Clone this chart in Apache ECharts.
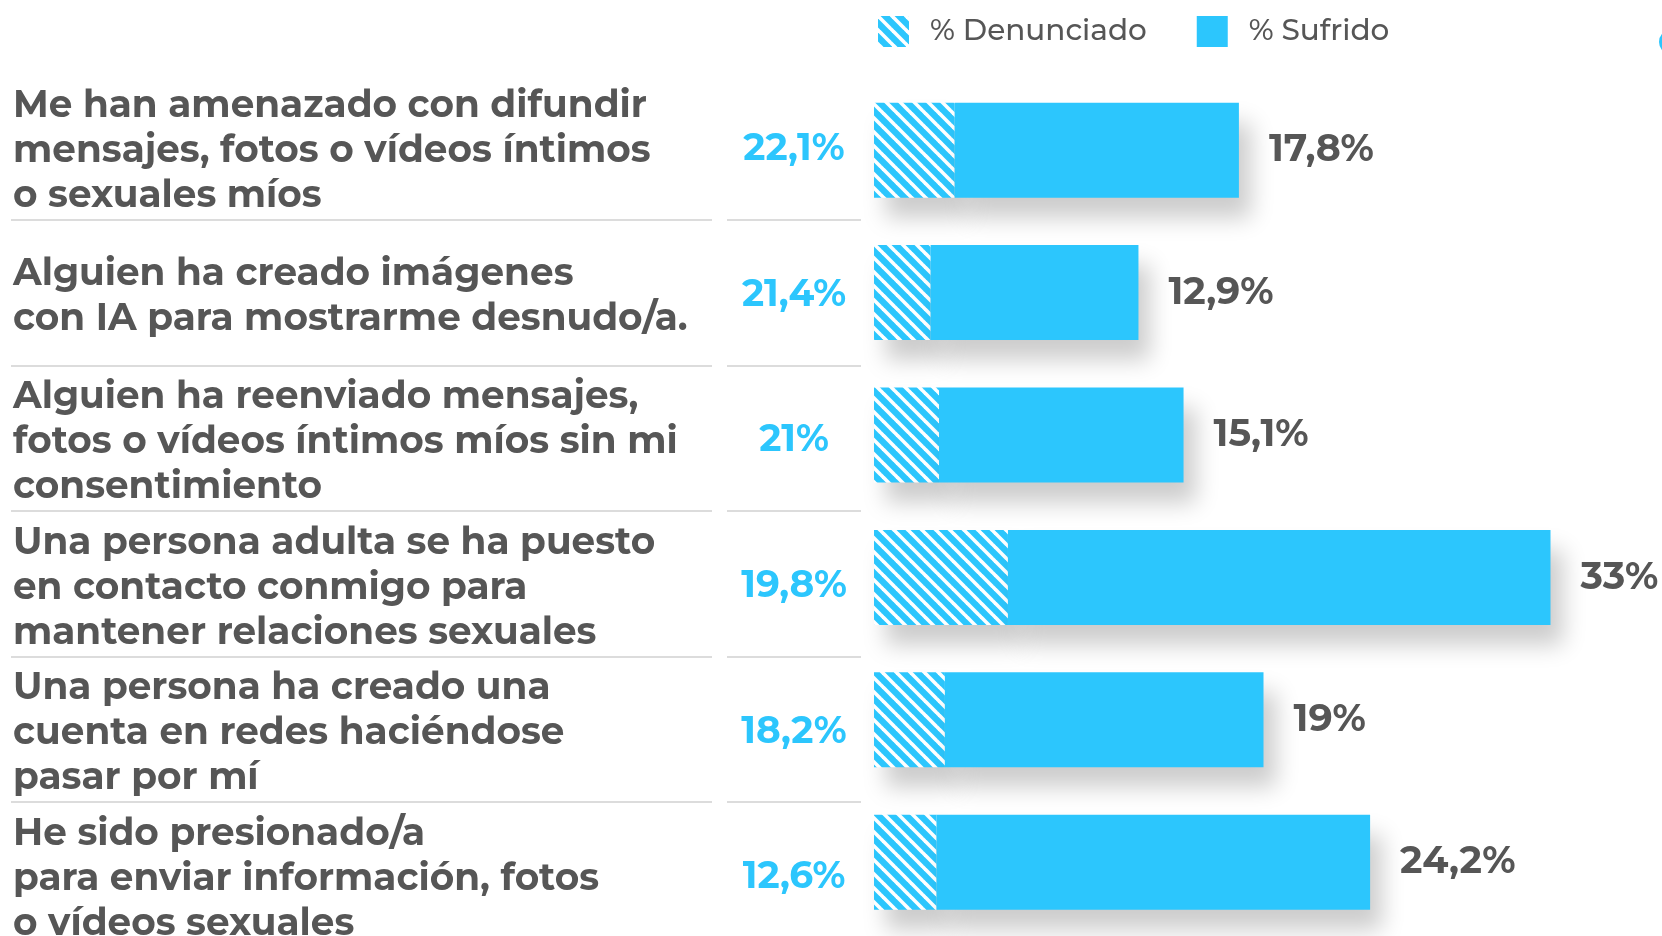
<!DOCTYPE html>
<html>
<head>
<meta charset="utf-8">
<script src="https://cdn.jsdelivr.net/npm/echarts@6/dist/echarts.min.js"></script>
<style>
  html, body { margin: 0; padding: 0; background: #fff; }
  #chart { width: 1662px; height: 936px; }
</style>
</head>
<body>
<div id="chart"></div>
<script>
var preguntas = [
  'Me han amenazado con difundir\nmensajes, fotos o vídeos íntimos\no sexuales míos',
  'Alguien ha creado imágenes\ncon IA para mostrarme desnudo/a.',
  'Alguien ha reenviado mensajes,\nfotos o vídeos íntimos míos sin mi\nconsentimiento',
  'Una persona adulta se ha puesto\nen contacto conmigo para\nmantener relaciones sexuales',
  'Una persona ha creado una\ncuenta en redes haciéndose\npasar por mí',
  'He sido presionado/a\npara enviar información, fotos\no vídeos sexuales'
]
// % denunciado (sobre los que lo han sufrido)
var denunciado = [22.1, 21.4, 21, 19.8, 18.2, 12.6]
// % sufrido
var sufrido = [17.8, 12.9, 15.1, 33, 19, 24.2]
var seriesNames = ['% Denunciado', '% Sufrido']

var azul = '#2cc6fd'
var gris = '#565656'
var fuente = "Montserrat, 'Noto Sans', sans-serif"

function fmt(v) {
  return String(v).replace('.', ',') + '%'
}

// trama rayada para la parte denunciada
function rayas() {
  var s = 14
  var c = document.createElement('canvas')
  c.width = s
  c.height = s
  var ctx = c.getContext('2d')
  ctx.fillStyle = azul
  ctx.fillRect(0, 0, s, s)
  ctx.strokeStyle = '#ffffff'
  ctx.lineWidth = 3.6
  for (var k = -s; k <= s; k += s) {
    ctx.beginPath()
    ctx.moveTo(k - 1, -1)
    ctx.lineTo(k + s + 1, s + 1)
    ctx.stroke()
  }
  return c
}

var parteDenunciada = []
var resto = []
for (var i = 0; i < sufrido.length; i++) {
  var d = sufrido[i] * denunciado[i] / 100
  parteDenunciada.push(+d.toFixed(3))
  resto.push(+(sufrido[i] - d).toFixed(3))
}

var sombra = {
  shadowColor: 'rgba(0,0,0,0.2)',
  shadowBlur: 22,
  shadowOffsetX: 12,
  shadowOffsetY: 20
}

// ejes ocultos de apoyo
var sinEje = { axisLine: { show: false }, axisTick: { show: false } }
var separador = { show: true, showMinLine: false, lineStyle: { color: '#dcdcdc', width: 2 } }

var myChart = echarts.init(document.getElementById('chart'))
var option = {
  animation: false,
  backgroundColor: '#fff',
  legend: {
    data: seriesNames,
    left: 878,
    top: 16,
    padding: 0,
    itemWidth: 31,
    itemHeight: 31,
    itemGap: 50,
    icon: 'rect',
    itemStyle: { shadowBlur: 0, shadowColor: 'transparent', shadowOffsetX: 0, shadowOffsetY: 0 },
    textStyle: {
      fontFamily: fuente,
      fontSize: 29.5,
      fontWeight: 500,
      color: gris,
      padding: [2, 0, 0, 16]
    }
  },
  grid: [
    // barras
    { left: 874, right: 50, top: 79, height: 854.4, outerBoundsMode: 'none' },
    // separadores
    { left: 11, width: 701, top: 74.2, height: 873.6, outerBoundsMode: 'none' },
    { left: 727, width: 134, top: 74.2, height: 873.6, outerBoundsMode: 'none' },
    // textos
    { left: 11, width: 701, top: 78.2, height: 873.6, outerBoundsMode: 'none' },
    { left: 727, width: 134, top: 76.4, height: 873.6, outerBoundsMode: 'none' }
  ],
  xAxis: [
    { gridIndex: 0, type: 'value', min: 0, max: 36, show: false },
    { gridIndex: 1, type: 'value', min: 0, max: 1, show: false },
    { gridIndex: 2, type: 'value', min: 0, max: 1, show: false },
    { gridIndex: 3, type: 'value', min: 0, max: 1, show: false },
    { gridIndex: 4, type: 'value', min: 0, max: 1, show: false }
  ],
  yAxis: [
    Object.assign({
      gridIndex: 0, type: 'category', data: preguntas, inverse: true, axisLabel: { show: false }
    }, sinEje),
    Object.assign({
      gridIndex: 1, type: 'category', data: preguntas, inverse: true,
      splitLine: separador, axisLabel: { show: false }
    }, sinEje),
    Object.assign({
      gridIndex: 2, type: 'category', data: denunciado, inverse: true,
      splitLine: separador, axisLabel: { show: false }
    }, sinEje),
    Object.assign({
      gridIndex: 3, type: 'category', data: preguntas, inverse: true,
      axisLabel: {
        inside: true, margin: 2, interval: 0, align: 'left',
        fontFamily: fuente, fontSize: 37.4, fontWeight: 'bold', lineHeight: 45, color: gris
      }
    }, sinEje),
    Object.assign({
      gridIndex: 4, type: 'category', data: denunciado, inverse: true, position: 'right',
      axisLabel: {
        inside: true, margin: 67, interval: 0, align: 'center',
        fontFamily: fuente, fontSize: 37.5, fontWeight: 'bold', color: azul,
        formatter: function (v) { return fmt(v) }
      }
    }, sinEje)
  ],
  series: [
    {
      name: seriesNames[0],
      type: 'bar',
      stack: 'total',
      barWidth: 95,
      xAxisIndex: 0,
      yAxisIndex: 0,
      itemStyle: Object.assign({ color: { image: rayas(), repeat: 'repeat' } }, sombra),
      data: parteDenunciada
    },
    {
      name: seriesNames[1],
      type: 'bar',
      stack: 'total',
      barWidth: 95,
      xAxisIndex: 0,
      yAxisIndex: 0,
      itemStyle: Object.assign({ color: azul }, sombra),
      label: {
        show: true,
        position: 'right',
        distance: 30,
        fontFamily: fuente,
        fontSize: 38,
        fontWeight: 'bold',
        color: gris,
        formatter: function (p) { return fmt(sufrido[p.dataIndex]) }
      },
      data: resto
    }
  ],
  graphic: [
    { type: 'circle', left: 1659, top: 29, shape: { r: 13 }, style: { fill: azul } }
  ]
}
myChart.setOption(option)
</script>
</body>
</html>
